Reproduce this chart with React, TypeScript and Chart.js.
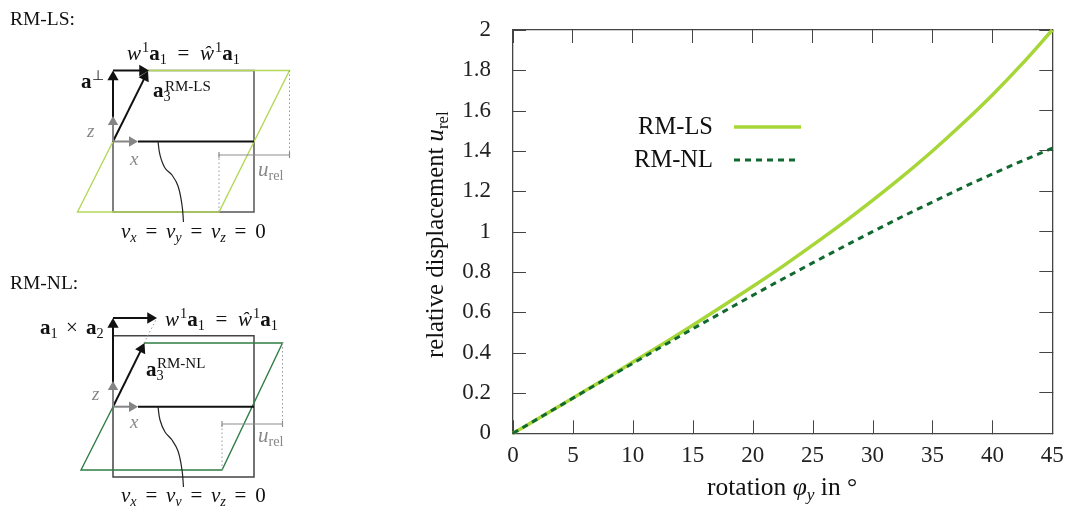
import React, { useEffect, useRef } from "react";
import { Chart, registerables } from "chart.js";

Chart.register(...registerables);

const SERIF = '"Liberation Serif", serif';
const W = 1067;
const H = 506;
const PANEL = 420;

// ---- main plot data
const rotation = [0, 2.5, 5, 7.5, 10, 12.5, 15, 17.5, 20, 22.5, 25, 27.5, 30, 32.5, 35, 37.5, 40, 42.5, 45];
const rmLs = [0, 0.087, 0.175, 0.263, 0.353, 0.443, 0.536, 0.631, 0.728, 0.828, 0.933, 1.041, 1.155, 1.274, 1.4, 1.535, 1.678, 1.833, 2.0];
const rmNl = [0, 0.087, 0.174, 0.261, 0.347, 0.433, 0.518, 0.601, 0.684, 0.765, 0.845, 0.923, 1.0, 1.075, 1.147, 1.218, 1.286, 1.351, 1.414];
const xTickLabels = ["0", "5", "10", "15", "20", "25", "30", "35", "40", "45"];
const yTickLabels = ["0", "0.2", "0.4", "0.6", "0.8", "1", "1.2", "1.4", "1.6", "1.8", "2"];
const LIGHT = "#a6d637";
const DARK = "#10692f";
const AXIS = "#444444";

// ---- schematic geometry (panel units)
type P = [number, number];
const lsShell: P[] = [[113, 141.5], [77.5, 212], [219, 212], [289.5, 70.5], [148, 70.5]];
const nlShell: P[] = [[113, 406.7], [81, 470], [222, 470], [282.5, 343], [144, 343]];
const lsRect: P[] = [[113, 141.5], [113, 212], [254, 212], [254, 70.5], [148, 70.5]];
const nlRect: P[] = [[113, 406.7], [113, 477], [254, 477], [254, 335.7], [113, 335.7]];
const lsMid: P[] = [[138, 141.5], [254, 141.5]];
const nlMid: P[] = [[138, 406.7], [254, 406.7]];
const lsCurve: P[] = [[158, 141.5], [160, 155], [165, 168], [172, 175], [178, 186], [182, 205], [183.5, 222]];
const nlCurve: P[] = [[158, 406.7], [160, 420], [165, 432], [172, 440], [178, 451], [182, 470], [183.5, 487]];
const dotted: P[][] = [
  [[219, 212], [219, 154]],
  [[289.5, 70.5], [289.5, 155]],
  [[222, 470], [222, 423]],
  [[282.5, 343], [282.5, 424]],
  [[144, 343], [157, 318]],
];
const dims: P[][] = [
  [[219, 155], [289.5, 155]],
  [[219, 152], [219, 158]],
  [[289.5, 152], [289.5, 158]],
  [[222, 424], [282.5, 424]],
  [[222, 421], [222, 427]],
  [[282.5, 421], [282.5, 427]],
];
const blackArrows: P[][] = [
  [[113, 141.5], [113, 70.5]],
  [[113, 70.5], [149, 70.5]],
  [[113, 141.5], [148, 71]],
  [[113, 406.7], [113, 318]],
  [[113, 318], [157, 318]],
  [[113, 406.7], [144.5, 343]],
];
const greyArrows: P[][] = [
  [[113, 141.5], [113, 116]],
  [[113, 141.5], [138, 141.5]],
  [[113, 406.7], [113, 381]],
  [[113, 406.7], [138, 406.7]],
];

// ---- rich text
type Run = { t: string; i?: boolean; b?: boolean; sub?: boolean; sup?: boolean; gap?: number };
type Label = { x: number; y: number; size: number; color: string; runs: Run[] };

const wEq: Run[] = [
  { t: "w", i: true }, { t: "1", sup: true, gap: 1 }, { t: "a", b: true }, { t: "1", sub: true },
  { t: " = ", gap: 5.5 }, { t: "ŵ", i: true }, { t: "1", sup: true, gap: 1 }, { t: "a", b: true }, { t: "1", sub: true },
];
const vEq = (y: string): Run[] => [
  { t: "v", i: true }, { t: "x", i: true, sub: true }, { t: " = ", gap: 3.5 },
  { t: "v", i: true }, { t: y, i: true, sub: true }, { t: " = ", gap: 3.5 },
  { t: "v", i: true }, { t: "z", i: true, sub: true }, { t: " = ", gap: 3.5 }, { t: "0" },
];
const uRel: Run[] = [{ t: "u", i: true }, { t: "rel", sub: true }];

const diagramLabels: Label[] = [
  { x: 10, y: 25, size: 19.5, color: "#111", runs: [{ t: "RM-LS:" }] },
  { x: 127, y: 60, size: 21, color: "#111", runs: wEq },
  { x: 81, y: 88, size: 21, color: "#111", runs: [{ t: "a", b: true }, { t: "⊥", sup: true }] },
  { x: 153, y: 97, size: 21, color: "#111", runs: [{ t: "a", b: true }, { t: "3", sub: true }] },
  { x: 165, y: 91, size: 15, color: "#111", runs: [{ t: "RM-LS" }] },
  { x: 87, y: 137, size: 19, color: "#888", runs: [{ t: "z", i: true }] },
  { x: 130, y: 165, size: 19, color: "#888", runs: [{ t: "x", i: true }] },
  { x: 258, y: 176, size: 21, color: "#888", runs: uRel },
  { x: 121, y: 238, size: 21, color: "#111", runs: vEq("y") },
  { x: 10, y: 289, size: 19.5, color: "#111", runs: [{ t: "RM-NL:" }] },
  { x: 165, y: 326, size: 21, color: "#111", runs: wEq },
  { x: 40, y: 334, size: 21, color: "#111", runs: [{ t: "a", b: true }, { t: "1", sub: true }, { t: " × ", gap: 3 }, { t: "a", b: true }, { t: "2", sub: true }] },
  { x: 146, y: 376, size: 21, color: "#111", runs: [{ t: "a", b: true }, { t: "3", sub: true }] },
  { x: 157, y: 368, size: 15, color: "#111", runs: [{ t: "RM-NL" }] },
  { x: 92, y: 400, size: 19, color: "#888", runs: [{ t: "z", i: true }] },
  { x: 130, y: 428, size: 19, color: "#888", runs: [{ t: "x", i: true }] },
  { x: 258, y: 442, size: 21, color: "#888", runs: uRel },
  { x: 121, y: 502, size: 21, color: "#111", runs: vEq("y") },
];

const xTitle: Run[] = [{ t: "rotation " }, { t: "φ", i: true }, { t: "y", i: true, sub: true }, { t: " in °" }];
const yTitle: Run[] = [{ t: "relative displacement " }, { t: "u", i: true }, { t: "rel", sub: true }];

function drawRuns(ctx: CanvasRenderingContext2D, x: number, y: number, size: number, color: string, runs: Run[]) {
  ctx.save();
  ctx.fillStyle = color;
  ctx.textAlign = "left";
  ctx.textBaseline = "alphabetic";
  let cx = x;
  for (const r of runs) {
    const small = r.sub || r.sup;
    const s = small ? size * 0.68 : size;
    ctx.font = `${r.i ? "italic " : ""}${r.b ? "bold " : ""}${s}px ${SERIF}`;
    const dy = r.sub ? size * 0.2 : r.sup ? -size * 0.38 : 0;
    const gap = r.gap ?? 0;
    cx += gap;
    ctx.fillText(r.t, cx, y + dy);
    cx += ctx.measureText(r.t).width;
    if (r.t.startsWith(" ")) cx += gap;
  }
  ctx.restore();
}

const innerTicks = {
  id: "innerTicks",
  beforeDatasetsDraw(chart: any) {
    const ctx: CanvasRenderingContext2D = chart.ctx;
    const { x, y } = chart.scales;
    const area = chart.chartArea;
    const len = 13;
    ctx.save();
    ctx.strokeStyle = AXIS;
    ctx.lineWidth = 1;
    ctx.beginPath();
    for (const t of x.ticks) {
      const px = Math.round(x.getPixelForValue(t.value)) + 0.5;
      ctx.moveTo(px, area.bottom);
      ctx.lineTo(px, area.bottom - len);
    }
    for (const t of y.ticks) {
      const py = Math.round(y.getPixelForValue(t.value)) + 0.5;
      ctx.moveTo(area.left, py);
      ctx.lineTo(area.left + len, py);
    }
    ctx.stroke();
    ctx.restore();
  },
};

const mainDecor = {
  id: "mainDecor",
  afterDatasetsDraw(chart: any) {
    const ctx: CanvasRenderingContext2D = chart.ctx;
    const ox = PANEL;
    drawRuns(ctx, 707 - ox, 495, 25.5, "#111", xTitle);
    ctx.save();
    ctx.translate(443 - ox, 358);
    ctx.rotate(-Math.PI / 2);
    drawRuns(ctx, 0, 0, 24.7, "#111", yTitle);
    ctx.restore();
    const rows = [
      { i: 0, y: 127, x2: 801, w: 3.5, dash: [] as number[] },
      { i: 1, y: 160, x2: 797, w: 3, dash: [6, 5] },
    ];
    for (const r of rows) {
      const ds = chart.data.datasets[r.i];
      ctx.save();
      ctx.font = `24.5px ${SERIF}`;
      ctx.fillStyle = "#111";
      ctx.textAlign = "right";
      ctx.textBaseline = "middle";
      ctx.fillText(ds.label, 713 - ox, r.y + 1);
      ctx.strokeStyle = ds.borderColor;
      ctx.lineWidth = r.w;
      ctx.setLineDash(r.dash);
      ctx.beginPath();
      ctx.moveTo(734 - ox, r.y);
      ctx.lineTo(r.x2 - ox, r.y);
      ctx.stroke();
      ctx.restore();
    }
  },
};

const diagramDecor = {
  id: "diagramDecor",
  afterDatasetsDraw(chart: any) {
    for (const l of diagramLabels) drawRuns(chart.ctx, l.x, l.y, l.size, l.color, l.runs);
  },
};

const toXY = (pts: P[]) => pts.map(([x, y]) => ({ x, y }));
const line = (pts: P[], color: string, width: number, extra: any = {}) => ({
  data: toXY(pts), showLine: true, borderColor: color, borderWidth: width, pointRadius: 0, tension: 0, fill: false, ...extra,
});
function arrow(a: P[], color: string, width: number, r: number) {
  const [[x0, y0], [x1, y1]] = a;
  const len = Math.hypot(x1 - x0, y1 - y0);
  const ux = (x1 - x0) / len;
  const uy = (y1 - y0) / len;
  const head: P = [x1 - ux * r, y1 - uy * r];
  const rot = (Math.atan2(ux, -uy) * 180) / Math.PI;
  return [
    line([a[0], head], color, width),
    {
      data: toXY([head]), showLine: false, pointStyle: "triangle", pointRadius: r, pointRotation: rot,
      pointBackgroundColor: color, pointBorderColor: color, pointBorderWidth: 0,
    },
  ];
}

export default function App() {
  const mainRef = useRef<HTMLCanvasElement>(null);
  const diagRef = useRef<HTMLCanvasElement>(null);

  useEffect(() => {
    const fit = (w?: number, h?: number) => (s: any) => {
      if (w !== undefined) s.width = w;
      if (h !== undefined) s.height = h;
      s.paddingLeft = 0;
      s.paddingRight = 0;
      s.paddingTop = 0;
      s.paddingBottom = 0;
    };
    const grid = { drawOnChartArea: false, drawTicks: true, tickLength: -13, color: AXIS, lineWidth: 1 };
    const border = { color: AXIS, width: 1.3 };
    const frameX = (position: string) => ({
      type: "linear", min: 0, max: 45, position, weight: 0, afterFit: fit(undefined, 0),
      grid, border, ticks: { stepSize: 5, display: false },
    });
    const frameY = (position: string) => ({
      type: "linear", min: 0, max: 2, position, weight: 0, afterFit: fit(0),
      grid, border, ticks: { stepSize: 0.2, display: false },
    });
    const main = new Chart(mainRef.current!, {
      type: "line",
      data: {
        labels: rotation,
        datasets: [
          { label: "RM-LS", data: rotation.map((x, i) => ({ x, y: rmLs[i] })), borderColor: LIGHT, borderWidth: 3.5, pointRadius: 0, order: 2, clip: false, cubicInterpolationMode: "monotone" },
          { label: "RM-NL", data: rotation.map((x, i) => ({ x, y: rmNl[i] })), borderColor: DARK, borderWidth: 3, borderDash: [6, 5], pointRadius: 0, order: 1, clip: false, cubicInterpolationMode: "monotone" },
        ],
      } as any,
      options: {
        responsive: false,
        animation: false,
        layout: { autoPadding: false, padding: { top: 30, right: 14.7, left: 0, bottom: 0 } },
        plugins: { legend: { display: false }, tooltip: { enabled: false } },
        scales: {
          x: {
            type: "linear", min: 0, max: 45, position: "bottom", weight: 1, afterFit: fit(undefined, 72.7),
            grid: { display: false, drawTicks: false }, border: { display: false },
            ticks: {
              stepSize: 5, padding: 9, color: "#222", maxRotation: 0, autoSkip: false,
              font: { family: SERIF, size: 23 },
              callback: (_v: any, i: number) => xTickLabels[i],
            },
          },
          y: {
            type: "linear", min: 0, max: 2, position: "left", weight: 1, afterFit: fit(93),
            grid: { display: false, drawTicks: false }, border: { display: false },
            ticks: {
              stepSize: 0.2, padding: 22, color: "#222", autoSkip: false,
              font: { family: SERIF, size: 23 },
              callback: (_v: any, i: number) => yTickLabels[i],
            },
          },
          xBottom: { ...frameX("bottom"), grid: { ...grid, tickLength: 0 } },
          yLeft: { ...frameY("left"), grid: { ...grid, tickLength: 0 } },
          xTop: frameX("top"),
          yRight: frameY("right"),
        },
      } as any,
      plugins: [innerTicks, mainDecor],
    });

    const arrows = [
      ...blackArrows.flatMap((a) => arrow(a, "#111111", 2, 6.5)),
      ...greyArrows.flatMap((a) => arrow(a, "#858585", 2, 6)),
    ];
    const diag = new Chart(diagRef.current!, {
      type: "scatter",
      data: {
        datasets: [
          line(lsRect, "#555555", 1.5),
          line(nlRect, "#444444", 1.5),
          line(lsShell, "#b2d85a", 1.4),
          line(nlShell, "#2f7d43", 1.4),
          ...dotted.map((d) => line(d, "#999999", 1, { borderDash: [1.5, 2.5] })),
          ...dims.map((d) => line(d, "#8e8e8e", 1.2)),
          line(lsMid, "#111111", 2),
          line(nlMid, "#111111", 2),
          line(lsCurve, "#222222", 1.2, { tension: 0.4 }),
          line(nlCurve, "#222222", 1.2, { tension: 0.4 }),
          ...arrows,
        ].map((d, i, all) => ({ ...d, order: all.length - i })),
      } as any,
      options: {
        responsive: false,
        animation: false,
        layout: { autoPadding: false, padding: 0 },
        plugins: { legend: { display: false }, tooltip: { enabled: false } },
        scales: {
          x: { type: "linear", min: 0, max: PANEL, display: false },
          y: { type: "linear", min: 0, max: H, reverse: true, display: false },
        },
      } as any,
      plugins: [diagramDecor],
    });
    return () => {
      main.destroy();
      diag.destroy();
    };
  }, []);

  return (
    <div style={{ position: "absolute", left: 0, top: 0, width: W, height: H, background: "#fff", overflow: "hidden" }}>
      <canvas ref={diagRef} width={PANEL} height={H} style={{ position: "absolute", left: 0, top: 0 }} />
      <canvas ref={mainRef} width={W - PANEL} height={H} style={{ position: "absolute", left: PANEL, top: 0 }} />
    </div>
  );
}
